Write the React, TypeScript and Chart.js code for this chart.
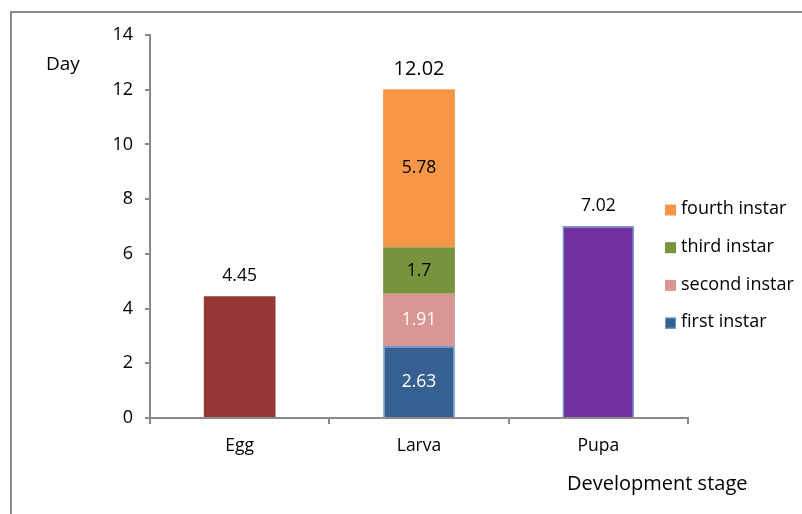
import React, { useEffect, useRef } from "react";
import { Chart, registerables } from "chart.js";

Chart.register(...registerables);

const categories = ["Egg", "Larva", "Pupa"];
const eggValues = [4.45, null, null];
const firstInstar = [null, 2.63, null];
const secondInstar = [null, 1.91, null];
const thirdInstar = [null, 1.7, null];
const fourthInstar = [null, 5.78, null];
const pupaValues = [null, null, 7.02];
const totalLabels = ["4.45", "12.02", "7.02"];
const yTitle = "Day";
const xTitle = "Development stage";

const FONT = "'Open Sans', Lato, sans-serif";

const overlayPlugin = {
  id: "overlay",
  beforeDraw(chart: any) {
    const ctx = chart.ctx;
    ctx.save();
    ctx.fillStyle = "#ffffff";
    ctx.fillRect(0, 0, chart.width, chart.height);
    ctx.strokeStyle = "#8a8a8a";
    ctx.lineWidth = 2;
    ctx.beginPath();
    ctx.moveTo(11, chart.height + 5);
    ctx.lineTo(11, 12);
    ctx.lineTo(chart.width + 5, 12);
    ctx.stroke();
    ctx.restore();
  },
  afterDatasetsDraw(chart: any) {
    const ctx = chart.ctx;
    ctx.save();
    ctx.font = `17.5px ${FONT}`;
    ctx.textAlign = "center";
    ctx.textBaseline = "middle";
    const tops: number[] = [Infinity, Infinity, Infinity];
    chart.data.datasets.forEach((ds: any, di: number) => {
      const meta = chart.getDatasetMeta(di);
      meta.data.forEach((el: any, i: number) => {
        const v = ds.data[i];
        if (v === null || v === undefined) return;
        tops[i] = Math.min(tops[i], el.y);
        if (ds.inner) {
          ctx.fillStyle = ds.labelColor;
          ctx.fillText(String(v), el.x, (el.y + el.base) / 2);
        }
      });
    });
    const xs = chart.scales.x;
    totalLabels.forEach((t, i) => {
      ctx.fillStyle = "#000000";
      ctx.font = i === 1 ? `20px ${FONT}` : `17.5px ${FONT}`;
      ctx.fillText(t, xs.getPixelForValue(i), tops[i] - 20);
    });
    // axis titles
    ctx.textAlign = "left";
    ctx.font = `19px ${FONT}`;
    ctx.fillText(yTitle, 46, 65);
    ctx.font = `20px ${FONT}`;
    ctx.fillText(xTitle, 567, 484);
    // legend
    const legendItems = chart.data.datasets.filter((d: any) => d.inner).slice().reverse();
    ctx.font = `18px ${FONT}`;
    legendItems.forEach((d: any, k: number) => {
      const cy = 210 + k * 37.7;
      ctx.fillStyle = d.backgroundColor;
      ctx.fillRect(665, cy - 5.5, 11, 11);
      if (d.borderWidth) {
        ctx.strokeStyle = d.borderColor;
        ctx.lineWidth = 1;
        ctx.strokeRect(665.5, cy - 5, 10, 10);
      }
      ctx.fillStyle = "#000000";
      ctx.fillText(d.label, 681, cy - 1);
    });
    ctx.restore();
  },
};

export default function App() {
  const ref = useRef<HTMLCanvasElement>(null);
  useEffect(() => {
    if (!ref.current) return;
    const common = { barPercentage: 0.8, categoryPercentage: 0.5, stack: "s" };
    const chart = new Chart(ref.current, {
      type: "bar",
      data: {
        labels: categories,
        datasets: [
          { label: "Egg", data: eggValues, backgroundColor: "#953735", ...common },
          { label: "first instar", data: firstInstar, backgroundColor: "#376092", borderColor: "#6a9bd3", borderWidth: 1.5, inner: true, labelColor: "#ffffff", ...common },
          { label: "second instar", data: secondInstar, backgroundColor: "#D99694", inner: true, labelColor: "#ffffff", ...common },
          { label: "third instar", data: thirdInstar, backgroundColor: "#77933C", inner: true, labelColor: "#000000", ...common },
          { label: "fourth instar", data: fourthInstar, backgroundColor: "#F79646", inner: true, labelColor: "#000000", ...common },
          { label: "Pupa", data: pupaValues, backgroundColor: "#7030A0", borderColor: "#6a9bd3", borderWidth: 1.5, ...common },
        ] as any,
      },
      options: {
        responsive: false,
        animation: false,
        maintainAspectRatio: false,
        layout: { padding: { top: 35, right: 114, left: 0, bottom: 0 } },
        plugins: { legend: { display: false }, tooltip: { enabled: false } },
        scales: {
          x: {
            stacked: true,
            afterFit: (s: any) => { s.height = 96; },
            grid: { offset: true, drawOnChartArea: false, drawTicks: true, tickLength: 6, color: "#8a8a8a", lineWidth: 2 },
            border: { color: "#8a8a8a", width: 2 },
            ticks: { color: "#000000", font: { family: FONT, size: 17.5 }, padding: 12 },
          },
          y: {
            stacked: true,
            min: 0,
            max: 14,
            afterFit: (s: any) => { s.width = 150; },
            grid: { drawOnChartArea: false, drawTicks: true, tickLength: 5, color: "#8a8a8a", lineWidth: 2 },
            border: { color: "#8a8a8a", width: 2 },
            ticks: { stepSize: 2, color: "#000000", font: { family: FONT, size: 18 }, padding: 12 },
          },
        },
      } as any,
      plugins: [overlayPlugin],
    });
    return () => chart.destroy();
  }, []);
  return (
    <div style={{ position: "absolute", left: 0, top: 0, width: 802, height: 514 }}>
      <canvas ref={ref} width={802} height={514} style={{ display: "block" }} />
    </div>
  );
}
